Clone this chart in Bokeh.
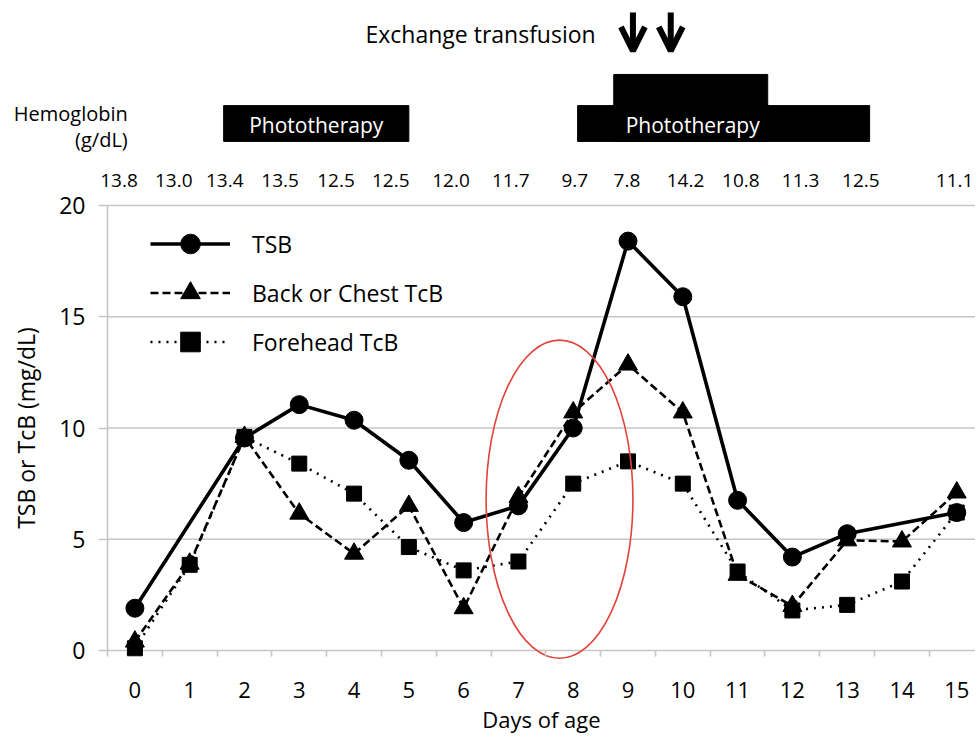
from bokeh.plotting import figure
from bokeh.models import (Range1d, FixedTicker, Legend, LegendItem, Arrow, OpenHead,
                          ColumnDataSource, Label)
from bokeh.core.properties import value
from bokeh.embed import file_html
from bokeh.resources import INLINE

# ---------------- data ----------------
days = list(range(16))
tsb_days = [0, 2, 3, 4, 5, 6, 7, 8, 9, 10, 11, 12, 13, 15]
tsb = [1.9, 9.55, 11.05, 10.35, 8.55, 5.75, 6.5, 10.0, 18.4, 15.9, 6.75, 4.2, 5.25, 6.2]
chest_tcb = [0.4, 3.9, 9.6, 6.15, 4.35, 6.5, 1.9, 6.9, 10.7, 12.85, 10.7, 3.4, 2.0, 4.95, 4.9, 7.1]
forehead_tcb = [0.1, 3.85, 9.6, 8.4, 7.05, 4.65, 3.6, 4.0, 7.5, 8.5, 7.5, 3.55, 1.8, 2.05, 3.1, 6.2]

hb_labels = ["13.8", "13.0", "13.4", "13.5", "12.5", "12.5", "12.0", "11.7",
             "9.7", "7.8", "14.2", "10.8", "11.3", "12.5", "11.1"]
hb_day = [-0.29, 0.71, 1.64, 2.65, 3.67, 4.67, 5.77, 6.86,
          8.03, 8.98, 10.05, 11.06, 12.15, 13.25, 14.96]

# phototherapy periods (days): standard and intensive
photo_start = [1.62, 8.08]
photo_end = [5.0, 13.41]
intensive_start = [8.74]
intensive_end = [11.55]
exchange_days = [9.09, 9.78]

y_ticks = [0, 5, 10, 15, 20]

# ---------------- layout ----------------
W, H = 975, 737
AXIS_X_PX = 107          # canvas x of day -0.5 (y axis)
ZERO_Y_PX = 650          # canvas y of value 0
PX_PER_DAY = 54.79
PX_PER_UNIT = 22.25
XA = -0.5
X_START = XA - AXIS_X_PX / PX_PER_DAY
X_END = X_START + W / PX_PER_DAY
Y_END = ZERO_Y_PX / PX_PER_UNIT
Y_START = Y_END - H / PX_PER_UNIT
FONT = "Open Sans"
GRID = "#c6c6c6"

# vertical positions (data units) of the treatment panel above the chart
Y_EXCH = 27.73
Y_ARROW_TOP, Y_ARROW_TIP = 28.67, 26.95
Y_BAR_TOP, Y_BAR_HIGH_TOP, Y_BAR_BOTTOM = 24.49, 25.89, 22.88
Y_PHOTO_TXT = 23.64
Y_HB_1, Y_HB_2 = 24.13, 22.97
Y_HB_VALUES = 21.12

p = figure(width=W, height=H, output_backend="svg", toolbar_location=None,
           x_range=Range1d(X_START, X_END), y_range=Range1d(Y_START, Y_END),
           min_border=0, outline_line_color=None)
p.grid.visible = False

# horizontal grid lines at the y ticks
p.segment(x0=XA, x1=X_END, y0=y_ticks, y1=y_ticks, line_color=GRID, line_width=1.6)

p.yaxis.fixed_location = XA
p.yaxis.ticker = FixedTicker(ticks=y_ticks)
p.yaxis.bounds = (0, 20)
p.yaxis.axis_line_color = GRID
p.yaxis.axis_line_width = 1.6
p.yaxis.major_tick_line_color = GRID
p.yaxis.major_tick_line_width = 1.6
p.yaxis.major_tick_out = 9
p.yaxis.major_tick_in = 0
p.yaxis.minor_tick_line_color = None
p.yaxis.major_label_text_font = FONT
p.yaxis.major_label_text_font_size = "23px"
p.yaxis.major_label_text_color = "black"
p.yaxis.major_label_standoff = 13
p.yaxis.axis_label = "TSB or TcB (mg/dL)"
p.yaxis.axis_label_text_font = FONT
p.yaxis.axis_label_text_font_size = "23px"
p.yaxis.axis_label_text_font_style = "normal"
p.yaxis.axis_label_text_color = "black"
p.yaxis.axis_label_standoff = 14

p.xaxis.fixed_location = 0
p.xaxis.bounds = (XA, X_END)
p.xaxis.ticker = FixedTicker(ticks=days, minor_ticks=[d - 0.5 for d in days] + [15.5])
p.xaxis.axis_line_color = None
p.xaxis.major_tick_out = 0
p.xaxis.major_tick_in = 0
p.xaxis.minor_tick_in = 0
p.xaxis.minor_tick_out = 6
p.xaxis.minor_tick_line_color = GRID
p.xaxis.minor_tick_line_width = 1.6
p.xaxis.major_label_text_font = FONT
p.xaxis.major_label_text_font_size = "22px"
p.xaxis.major_label_text_color = "black"
p.xaxis.major_label_standoff = 25
p.xaxis.axis_label = "Days of age"
p.xaxis.axis_label_text_font = FONT
p.xaxis.axis_label_text_font_size = "22px"
p.xaxis.axis_label_text_font_style = "normal"
p.xaxis.axis_label_text_color = "black"
p.xaxis.axis_label_standoff = 3

# ---- treatment panel ----
p.quad(left=photo_start, right=photo_end, top=Y_BAR_TOP, bottom=Y_BAR_BOTTOM,
       fill_color="black", line_color="black")
p.quad(left=intensive_start, right=intensive_end, top=Y_BAR_HIGH_TOP, bottom=Y_BAR_BOTTOM,
       fill_color="black", line_color="black")
p.text(x=[(photo_start[0] + photo_end[0]) / 2, 10.18], y=[Y_PHOTO_TXT] * 2,
       text=["Phototherapy", "Phototherapy"], text_color="white",
       text_font=value(FONT), text_font_size="21px",
       text_align="center", text_baseline="middle")

arrow_src = ColumnDataSource(dict(x=exchange_days, y0=[Y_ARROW_TOP] * 2,
                                  y1=[Y_ARROW_TIP] * 2))
p.add_layout(Arrow(source=arrow_src, x_start="x", y_start="y0", x_end="x", y_end="y1",
                   line_width=6, line_color="black",
                   end=OpenHead(size=24, line_width=6, line_color="black")))
p.add_layout(Label(x=8.41, y=Y_EXCH, text="Exchange transfusion", text_font=FONT,
                   text_font_size="23px", text_align="right", text_baseline="middle",
                   text_color="black"))
p.add_layout(Label(x=-0.13, y=Y_HB_1, text="Hemoglobin", text_font=FONT,
                   text_font_size="20px", text_align="right", text_baseline="middle",
                   text_color="black"))
p.add_layout(Label(x=-0.13, y=Y_HB_2, text="(g/dL)", text_font=FONT,
                   text_font_size="20px", text_align="right", text_baseline="middle",
                   text_color="black"))
for xv, lab in zip(hb_day, hb_labels):
    p.add_layout(Label(x=xv, y=Y_HB_VALUES, text=lab, text_font=FONT,
                       text_font_size="19px", text_align="center",
                       text_baseline="middle", text_color="black"))

# ---- series ----
l3 = p.line(days, forehead_tcb, line_color="black", line_width=2.6, line_dash="2 6")
l2 = p.line(days, chest_tcb, line_color="black", line_width=2.6, line_dash="8 4")
l1 = p.line(tsb_days, tsb, line_color="black", line_width=3.6)
s3 = p.scatter(days, forehead_tcb, marker="square", size=15, color="black")
s2 = p.scatter(days, chest_tcb, marker="triangle", size=19, color="black")
s1 = p.scatter(tsb_days, tsb, marker="circle", size=18, color="black")

p.ellipse(x=[7.75], y=[6.8], width=2.68, height=14.3, fill_color=None,
          line_color="#e0443c", line_width=1.6)

legend = Legend(items=[LegendItem(label="TSB", renderers=[l1, s1]),
                       LegendItem(label="Back or Chest TcB", renderers=[l2, s2]),
                       LegendItem(label="Forehead TcB", renderers=[l3, s3])],
                location=(150, 371), glyph_width=80, glyph_height=49, label_height=49,
                spacing=0, padding=0, margin=0, label_standoff=22,
                border_line_color=None, background_fill_alpha=0,
                label_text_font=FONT, label_text_font_size="23px",
                label_text_color="black")
p.add_layout(legend)

open("out.html", "w").write(file_html(p, INLINE))
